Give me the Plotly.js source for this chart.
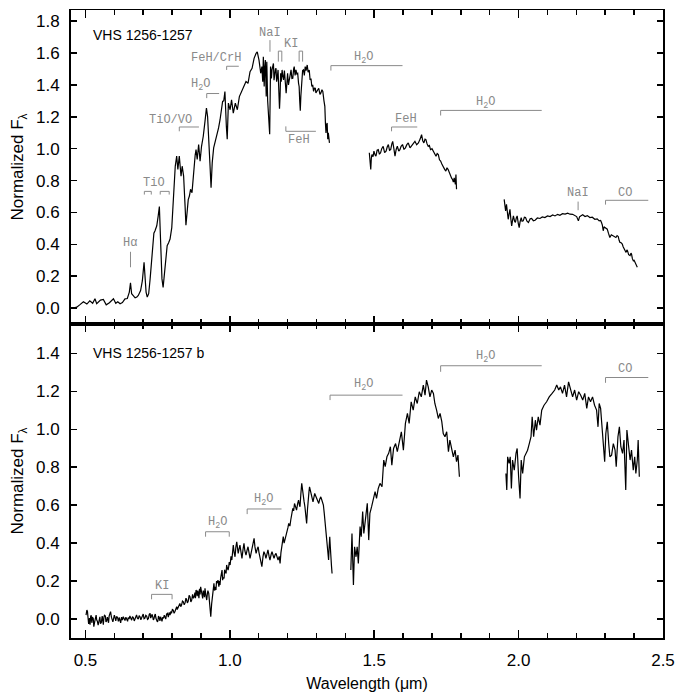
<!DOCTYPE html>
<html>
<head>
<meta charset="utf-8">
<script src="https://cdn.plot.ly/plotly-3.0.1.min.js"></script>
<style>
  html, body { margin: 0; padding: 0; background: #fff; }
  #chart { width: 693px; height: 692px; }
</style>
</head>
<body>
<div id="chart"></div>
<script>
// primary (top panel) spectrum, three segments [wavelength µm, normalized flux]
const hostSeg1 = [[0.458,0.000],[0.470,0.006],[0.480,0.020],[0.493,0.040],[0.505,0.025],[0.515,0.045],[0.525,0.030],[0.533,0.058],[0.539,0.027],[0.545,0.040],[0.552,0.050],[0.562,0.054],[0.572,0.020],[0.583,0.033],[0.590,0.045],[0.597,0.058],[0.605,0.030],[0.612,0.040],[0.620,0.027],[0.628,0.035],[0.637,0.058],[0.645,0.060],[0.652,0.100],[0.656,0.158],[0.660,0.090],[0.666,0.079],[0.672,0.064],[0.678,0.070],[0.683,0.079],[0.691,0.110],[0.697,0.170],[0.703,0.287],[0.707,0.160],[0.710,0.100],[0.714,0.069],[0.719,0.090],[0.724,0.183],[0.729,0.300],[0.733,0.401],[0.737,0.470],[0.741,0.485],[0.747,0.516],[0.752,0.578],[0.756,0.637],[0.760,0.433],[0.765,0.183],[0.769,0.130],[0.775,0.250],[0.779,0.330],[0.783,0.391],[0.788,0.410],[0.793,0.433],[0.799,0.505],[0.804,0.682],[0.808,0.850],[0.811,0.890],[0.816,0.953],[0.820,0.870],[0.825,0.953],[0.828,0.900],[0.831,0.828],[0.835,0.890],[0.840,0.828],[0.845,0.641],[0.848,0.520],[0.853,0.620],[0.856,0.680],[0.860,0.703],[0.864,0.745],[0.869,0.724],[0.872,0.800],[0.876,0.890],[0.880,0.960],[0.883,0.994],[0.887,0.932],[0.892,1.026],[0.897,0.922],[0.902,1.015],[0.908,1.078],[0.914,1.171],[0.919,1.254],[0.923,1.202],[0.928,1.057],[0.931,0.911],[0.935,0.755],[0.939,0.911],[0.944,1.005],[0.950,1.047],[0.956,1.098],[0.961,1.130],[0.966,1.180],[0.971,1.244],[0.975,1.296],[0.979,1.300],[0.983,1.359],[0.988,1.140],[0.991,1.060],[0.995,1.286],[1.001,1.244],[1.006,1.307],[1.012,1.223],[1.019,1.286],[1.026,1.244],[1.033,1.327],[1.041,1.359],[1.049,1.390],[1.056,1.421],[1.063,1.410],[1.070,1.483],[1.077,1.504],[1.084,1.567],[1.091,1.598],[1.095,1.608],[1.101,1.556],[1.104,1.500],[1.107,1.473],[1.111,1.515],[1.114,1.420],[1.116,1.577],[1.119,1.390],[1.121,1.510],[1.123,1.556],[1.126,1.327],[1.128,1.546],[1.131,1.300],[1.134,1.180],[1.138,1.090],[1.141,1.515],[1.144,1.440],[1.146,1.494],[1.148,1.520],[1.151,1.535],[1.153,1.430],[1.155,1.473],[1.158,1.500],[1.160,1.504],[1.162,1.420],[1.164,1.442],[1.167,1.494],[1.169,1.380],[1.172,1.250],[1.174,1.330],[1.176,1.473],[1.178,1.420],[1.181,1.494],[1.183,1.460],[1.186,1.431],[1.189,1.490],[1.192,1.400],[1.195,1.348],[1.198,1.420],[1.200,1.473],[1.203,1.400],[1.206,1.442],[1.209,1.470],[1.212,1.494],[1.215,1.440],[1.218,1.442],[1.221,1.500],[1.223,1.515],[1.226,1.460],[1.229,1.494],[1.232,1.470],[1.235,1.473],[1.238,1.410],[1.240,1.390],[1.242,1.300],[1.244,1.238],[1.246,1.330],[1.249,1.452],[1.252,1.490],[1.255,1.494],[1.258,1.460],[1.261,1.515],[1.264,1.490],[1.268,1.525],[1.271,1.480],[1.275,1.494],[1.278,1.431],[1.281,1.440],[1.284,1.390],[1.287,1.400],[1.290,1.359],[1.293,1.380],[1.296,1.379],[1.298,1.350],[1.301,1.359],[1.305,1.370],[1.308,1.379],[1.312,1.340],[1.315,1.348],[1.319,1.370],[1.322,1.359],[1.326,1.300],[1.329,1.265],[1.331,1.161],[1.333,1.099],[1.335,1.150],[1.337,1.161],[1.339,1.060],[1.341,1.100],[1.345,1.036]];
const hostSeg2 = [[1.483,0.974],[1.486,0.900],[1.488,0.869],[1.490,0.940],[1.492,0.963],[1.496,0.950],[1.499,0.984],[1.503,0.960],[1.506,0.953],[1.510,0.990],[1.514,0.994],[1.518,0.965],[1.522,0.974],[1.526,1.000],[1.531,1.015],[1.536,0.975],[1.541,0.984],[1.545,1.010],[1.549,1.026],[1.553,0.990],[1.557,0.994],[1.561,1.030],[1.564,1.046],[1.568,1.000],[1.572,0.953],[1.576,0.995],[1.580,1.015],[1.585,0.985],[1.589,0.994],[1.593,1.015],[1.598,1.026],[1.603,0.995],[1.608,1.005],[1.613,1.025],[1.618,1.036],[1.624,1.005],[1.630,1.019],[1.635,1.030],[1.641,1.046],[1.647,1.025],[1.653,1.036],[1.659,1.060],[1.664,1.088],[1.668,1.050],[1.672,1.036],[1.676,1.060],[1.679,1.057],[1.683,1.030],[1.687,1.015],[1.691,1.020],[1.695,0.994],[1.700,1.000],[1.705,0.984],[1.710,0.960],[1.714,0.953],[1.718,0.970],[1.722,0.963],[1.726,0.930],[1.730,0.922],[1.735,0.900],[1.739,0.890],[1.744,0.870],[1.748,0.859],[1.752,0.880],[1.756,0.869],[1.761,0.840],[1.765,0.828],[1.768,0.815],[1.771,0.807],[1.774,0.790],[1.777,0.817],[1.779,0.800],[1.781,0.776],[1.783,0.838],[1.785,0.745]];
const hostSeg3 = [[1.950,0.682],[1.953,0.640],[1.955,0.609],[1.958,0.651],[1.961,0.600],[1.964,0.557],[1.967,0.590],[1.970,0.620],[1.973,0.560],[1.976,0.516],[1.979,0.550],[1.982,0.578],[1.986,0.545],[1.989,0.537],[1.992,0.565],[1.995,0.578],[1.999,0.530],[2.002,0.505],[2.005,0.540],[2.009,0.568],[2.012,0.545],[2.016,0.547],[2.020,0.570],[2.024,0.568],[2.029,0.545],[2.034,0.537],[2.040,0.560],[2.045,0.562],[2.051,0.548],[2.057,0.551],[2.065,0.565],[2.074,0.562],[2.082,0.572],[2.091,0.568],[2.100,0.578],[2.109,0.574],[2.118,0.584],[2.126,0.578],[2.135,0.588],[2.143,0.582],[2.152,0.592],[2.161,0.589],[2.170,0.595],[2.178,0.589],[2.187,0.588],[2.195,0.578],[2.201,0.574],[2.207,0.547],[2.211,0.572],[2.215,0.578],[2.222,0.585],[2.230,0.574],[2.238,0.580],[2.247,0.568],[2.255,0.570],[2.264,0.557],[2.272,0.560],[2.279,0.547],[2.284,0.550],[2.287,0.537],[2.290,0.520],[2.293,0.485],[2.296,0.510],[2.299,0.505],[2.303,0.500],[2.307,0.495],[2.311,0.470],[2.316,0.443],[2.321,0.460],[2.326,0.453],[2.331,0.448],[2.337,0.443],[2.341,0.455],[2.345,0.449],[2.348,0.425],[2.351,0.412],[2.355,0.410],[2.359,0.401],[2.362,0.385],[2.366,0.370],[2.369,0.365],[2.372,0.349],[2.375,0.365],[2.377,0.360],[2.381,0.335],[2.386,0.329],[2.389,0.345],[2.391,0.339],[2.394,0.310],[2.397,0.297],[2.400,0.300],[2.404,0.287],[2.407,0.270],[2.411,0.256]];

// companion "b" (bottom panel) spectrum
const compSeg1 = [[0.502,0.021],[0.504,0.045],[0.505,0.047],[0.507,0.040],[0.509,0.000],[0.511,-0.026],[0.514,0.005],[0.516,-0.030],[0.518,0.012],[0.520,0.020],[0.522,-0.020],[0.524,0.010],[0.527,0.003],[0.529,-0.040],[0.532,-0.015],[0.535,0.015],[0.537,0.021],[0.539,-0.005],[0.541,-0.010],[0.544,-0.032],[0.547,0.000],[0.550,0.012],[0.552,-0.025],[0.555,-0.018],[0.558,0.015],[0.560,-0.014],[0.562,-0.030],[0.564,0.010],[0.566,0.020],[0.569,0.016],[0.571,-0.015],[0.573,-0.012],[0.576,0.010],[0.578,-0.005],[0.580,-0.020],[0.582,0.015],[0.585,0.025],[0.587,0.039],[0.590,0.010],[0.592,0.000],[0.595,-0.015],[0.597,-0.002],[0.600,0.020],[0.602,0.012],[0.605,-0.010],[0.608,0.012],[0.611,0.010],[0.614,-0.012],[0.617,0.008],[0.620,-0.009],[0.622,-0.020],[0.625,0.010],[0.628,-0.005],[0.631,0.012],[0.634,0.000],[0.637,-0.008],[0.640,0.010],[0.643,0.000],[0.646,-0.012],[0.648,0.008],[0.651,0.000],[0.654,0.016],[0.657,0.002],[0.660,-0.006],[0.663,0.012],[0.666,0.007],[0.669,-0.010],[0.671,-0.003],[0.674,0.010],[0.677,0.021],[0.680,0.005],[0.683,0.000],[0.686,0.018],[0.689,0.012],[0.692,-0.004],[0.694,0.004],[0.697,0.020],[0.700,0.026],[0.703,0.002],[0.706,0.005],[0.709,0.020],[0.712,0.016],[0.715,-0.002],[0.718,0.002],[0.721,0.025],[0.724,0.030],[0.726,0.005],[0.728,0.010],[0.731,0.025],[0.733,0.012],[0.735,-0.005],[0.737,0.000],[0.740,0.020],[0.742,0.026],[0.744,0.005],[0.746,0.000],[0.749,-0.015],[0.751,-0.009],[0.753,0.015],[0.755,0.010],[0.758,-0.010],[0.760,0.012],[0.763,0.000],[0.765,-0.012],[0.768,0.010],[0.770,0.003],[0.773,0.020],[0.775,0.012],[0.778,0.000],[0.781,0.026],[0.784,0.030],[0.787,0.010],[0.790,0.035],[0.793,0.021],[0.796,0.040],[0.798,0.030],[0.801,0.050],[0.804,0.047],[0.807,0.030],[0.810,0.040],[0.813,0.060],[0.816,0.065],[0.818,0.050],[0.821,0.060],[0.824,0.075],[0.827,0.082],[0.830,0.065],[0.833,0.075],[0.836,0.095],[0.839,0.091],[0.842,0.075],[0.845,0.085],[0.848,0.110],[0.850,0.104],[0.853,0.085],[0.856,0.095],[0.859,0.125],[0.862,0.118],[0.865,0.090],[0.868,0.100],[0.871,0.130],[0.874,0.109],[0.877,0.120],[0.879,0.140],[0.881,0.110],[0.883,0.153],[0.885,0.145],[0.887,0.120],[0.889,0.150],[0.891,0.135],[0.893,0.110],[0.895,0.160],[0.897,0.130],[0.899,0.170],[0.901,0.155],[0.903,0.140],[0.906,0.109],[0.908,0.150],[0.910,0.140],[0.912,0.115],[0.914,0.162],[0.917,0.125],[0.920,0.100],[0.922,0.130],[0.924,0.150],[0.927,0.135],[0.929,0.090],[0.931,0.070],[0.934,0.012],[0.937,0.080],[0.939,0.118],[0.942,0.160],[0.945,0.188],[0.947,0.150],[0.949,0.170],[0.952,0.153],[0.954,0.200],[0.956,0.190],[0.959,0.205],[0.962,0.170],[0.964,0.200],[0.966,0.179],[0.968,0.215],[0.970,0.230],[0.973,0.258],[0.975,0.205],[0.977,0.220],[0.980,0.214],[0.982,0.260],[0.984,0.250],[0.987,0.240],[0.989,0.285],[0.991,0.270],[0.994,0.258],[0.996,0.275],[0.998,0.300],[1.001,0.285],[1.004,0.330],[1.007,0.311],[1.010,0.360],[1.012,0.390],[1.015,0.350],[1.018,0.328],[1.021,0.380],[1.024,0.407],[1.027,0.370],[1.029,0.346],[1.032,0.370],[1.035,0.390],[1.039,0.350],[1.042,0.320],[1.046,0.370],[1.049,0.399],[1.052,0.360],[1.056,0.337],[1.060,0.365],[1.063,0.381],[1.067,0.345],[1.070,0.320],[1.074,0.350],[1.077,0.372],[1.081,0.400],[1.084,0.425],[1.087,0.380],[1.091,0.346],[1.095,0.370],[1.098,0.381],[1.101,0.350],[1.104,0.320],[1.108,0.300],[1.111,0.276],[1.115,0.330],[1.118,0.355],[1.122,0.340],[1.125,0.320],[1.129,0.345],[1.132,0.364],[1.136,0.330],[1.139,0.311],[1.143,0.340],[1.146,0.355],[1.150,0.335],[1.153,0.320],[1.157,0.340],[1.160,0.346],[1.164,0.325],[1.167,0.311],[1.171,0.330],[1.174,0.293],[1.177,0.350],[1.180,0.390],[1.183,0.420],[1.185,0.434],[1.188,0.400],[1.191,0.416],[1.194,0.445],[1.197,0.460],[1.201,0.480],[1.204,0.504],[1.208,0.490],[1.211,0.522],[1.215,0.560],[1.218,0.583],[1.221,0.570],[1.224,0.609],[1.228,0.590],[1.231,0.574],[1.235,0.610],[1.238,0.627],[1.241,0.600],[1.243,0.592],[1.246,0.660],[1.249,0.715],[1.252,0.680],[1.254,0.636],[1.257,0.620],[1.260,0.592],[1.263,0.550],[1.266,0.504],[1.269,0.580],[1.271,0.644],[1.274,0.670],[1.276,0.697],[1.279,0.680],[1.282,0.653],[1.285,0.640],[1.288,0.618],[1.291,0.640],[1.294,0.662],[1.297,0.650],[1.301,0.636],[1.304,0.620],[1.308,0.609],[1.311,0.630],[1.315,0.644],[1.318,0.630],[1.321,0.618],[1.324,0.600],[1.327,0.557],[1.330,0.500],[1.333,0.443],[1.336,0.400],[1.338,0.346],[1.340,0.330],[1.342,0.311],[1.344,0.380],[1.346,0.434],[1.348,0.380],[1.349,0.328],[1.352,0.280],[1.354,0.240]];
const compSeg2 = [[1.419,0.258],[1.423,0.451],[1.428,0.179],[1.432,0.381],[1.437,0.328],[1.441,0.381],[1.445,0.293],[1.451,0.487],[1.455,0.434],[1.460,0.566],[1.464,0.451],[1.470,0.522],[1.476,0.610],[1.481,0.416],[1.485,0.557],[1.491,0.592],[1.497,0.627],[1.503,0.671],[1.508,0.636],[1.514,0.688],[1.520,0.715],[1.527,0.697],[1.533,0.838],[1.538,0.803],[1.544,0.855],[1.550,0.873],[1.556,0.908],[1.561,0.811],[1.567,0.899],[1.574,0.925],[1.580,0.882],[1.587,0.943],[1.594,0.987],[1.601,0.890],[1.608,1.031],[1.615,1.084],[1.621,1.031],[1.628,1.145],[1.635,1.101],[1.642,1.171],[1.649,1.136],[1.656,1.198],[1.663,1.171],[1.670,1.233],[1.676,1.180],[1.681,1.259],[1.687,1.224],[1.693,1.171],[1.699,1.207],[1.705,1.189],[1.710,1.136],[1.716,1.101],[1.722,1.057],[1.728,1.084],[1.734,1.040],[1.739,0.978],[1.745,0.961],[1.751,0.987],[1.757,0.882],[1.762,0.943],[1.768,0.890],[1.774,0.855],[1.780,0.890],[1.785,0.829],[1.790,0.864],[1.795,0.750]];
const compSeg3 = [[1.956,0.767],[1.959,0.680],[1.962,0.855],[1.967,0.820],[1.971,0.855],[1.975,0.688],[1.979,0.838],[1.985,0.785],[1.991,0.873],[1.995,0.899],[2.000,0.750],[2.005,0.636],[2.009,0.838],[2.014,0.767],[2.020,0.855],[2.025,0.873],[2.031,0.890],[2.037,0.925],[2.043,0.961],[2.047,1.066],[2.052,0.961],[2.058,1.048],[2.062,0.996],[2.068,1.066],[2.074,1.022],[2.080,1.101],[2.088,1.127],[2.097,1.145],[2.106,1.171],[2.116,1.189],[2.125,1.207],[2.132,1.233],[2.139,1.207],[2.145,1.224],[2.152,1.189],[2.159,1.233],[2.166,1.171],[2.173,1.250],[2.180,1.215],[2.187,1.171],[2.194,1.207],[2.201,1.154],[2.208,1.198],[2.215,1.180],[2.222,1.154],[2.229,1.189],[2.236,1.110],[2.242,1.171],[2.249,1.145],[2.256,1.171],[2.263,1.127],[2.270,1.101],[2.275,1.013],[2.279,1.136],[2.284,1.110],[2.289,1.013],[2.293,0.952],[2.298,0.829],[2.302,0.978],[2.307,1.040],[2.312,0.925],[2.316,0.855],[2.322,0.864],[2.328,0.925],[2.334,0.890],[2.338,0.803],[2.344,0.961],[2.349,1.013],[2.354,0.908],[2.360,0.873],[2.365,0.943],[2.371,0.680],[2.375,0.996],[2.381,0.890],[2.386,0.838],[2.391,0.890],[2.397,0.785],[2.402,0.855],[2.406,0.767],[2.411,0.838],[2.414,0.943],[2.418,0.750]];

// feature bands: [label, x0, x1, barY, legY, legs('L' left only, 'B' both), labelX, labelY]
const hostBands = [
  ['TiO', 0.704, 0.728, 0.732, 0.712, 'B', 0.737, 0.782],
  ['', 0.759, 0.790, 0.732, 0.712, 'B', null, null],
  ['TiO/VO', 0.825, 0.893, 1.136, 1.109, 'L', 0.795, 1.180],
  ['H<sub>2</sub>O', 0.920, 0.963, 1.346, 1.317, 'L', 0.897, 1.400],
  ['FeH/CrH', 0.989, 1.031, 1.517, 1.494, 'L', 0.951, 1.567],
  ['KI', 1.168, 1.180, 1.612, 1.546, 'B', 1.211, 1.656],
  ['', 1.240, 1.252, 1.612, 1.546, 'B', null, null],
  ['FeH', 1.194, 1.298, 1.109, 1.140, 'L', 1.239, 1.052],
  ['H<sub>2</sub>O', 1.350, 1.598, 1.521, 1.490, 'L', 1.464, 1.571],
  ['FeH', 1.560, 1.649, 1.136, 1.109, 'L', 1.609, 1.186],
  ['H<sub>2</sub>O', 1.730, 2.080, 1.240, 1.208, 'L', 1.886, 1.286],
  ['CO', 2.301, 2.449, 0.676, 0.649, 'L', 2.368, 0.720]
];
// single lines: [label, x, y0, y1, labelY]
const hostLines = [
  ['Hα', 0.656, 0.256, 0.353, 0.410],
  ['NaI', 1.139, 1.608, 1.681, 1.723],
  ['NaI', 2.206, 0.614, 0.668, 0.720]
];
const compBands = [
  ['KI', 0.729, 0.800, 0.130, 0.104, 'B', 0.764, 0.172],
  ['H<sub>2</sub>O', 0.916, 0.998, 0.460, 0.434, 'B', 0.958, 0.507],
  ['H<sub>2</sub>O', 1.060, 1.179, 0.580, 0.553, 'L', 1.116, 0.627],
  ['H<sub>2</sub>O', 1.347, 1.598, 1.180, 1.154, 'L', 1.464, 1.233],
  ['H<sub>2</sub>O', 1.730, 2.080, 1.335, 1.303, 'L', 1.886, 1.382],
  ['CO', 2.301, 2.449, 1.273, 1.245, 'L', 2.368, 1.317]
];
const panelNames = ['VHS 1256-1257', 'VHS 1256-1257 b'];

function joinSegs(segs) {
    const x = [], y = [];
    segs.forEach(function (s, i) {
        if (i > 0) { x.push(null); y.push(null); }
        s.forEach(function (p) { x.push(p[0]); y.push(p[1]); });
    });
    return { x: x, y: y };
}

const host = joinSegs([hostSeg1, hostSeg2, hostSeg3]);
const comp = joinSegs([compSeg1, compSeg2, compSeg3]);

const lineStyle = { color: 'black', width: 1.2 };
const traces = [
    { x: host.x, y: host.y, xaxis: 'x2', yaxis: 'y2', type: 'scatter', mode: 'lines', line: lineStyle, connectgaps: false, hoverinfo: 'skip' },
    { x: comp.x, y: comp.y, xaxis: 'x', yaxis: 'y', type: 'scatter', mode: 'lines', line: lineStyle, connectgaps: false, hoverinfo: 'skip' }
];

const grey = '#8a8a8a';
const monoFont = { family: 'Liberation Mono, Courier New, monospace', size: 12, color: grey };
const shapes = [], annotations = [];

function addBands(bands, xref, yref) {
    bands.forEach(function (b) {
        let path = 'M' + b[1] + ',' + b[4] + ' L' + b[1] + ',' + b[3] + ' L' + b[2] + ',' + b[3];
        if (b[5] === 'B') path += ' L' + b[2] + ',' + b[4];
        shapes.push({ type: 'path', xref: xref, yref: yref, path: path, line: { color: grey, width: 1 } });
        if (b[0]) {
            annotations.push({ xref: xref, yref: yref, x: b[6], y: b[7], text: b[0], showarrow: false,
                xanchor: 'center', yanchor: 'middle', font: monoFont });
        }
    });
}
addBands(hostBands, 'x2', 'y2');
addBands(compBands, 'x', 'y');
hostLines.forEach(function (l) {
    shapes.push({ type: 'line', xref: 'x2', yref: 'y2', x0: l[1], x1: l[1], y0: l[2], y1: l[3], line: { color: grey, width: 1 } });
    annotations.push({ xref: 'x2', yref: 'y2', x: l[1], y: l[4], text: l[0], showarrow: false,
        xanchor: 'center', yanchor: 'middle', font: monoFont });
});

annotations.push({ xref: 'x2', yref: 'y2', x: 0.52, y: 1.712, text: panelNames[0], showarrow: false,
    xanchor: 'left', yanchor: 'middle', font: { family: 'Liberation Sans, Arial, sans-serif', size: 14, color: 'black' } });
annotations.push({ xref: 'x', yref: 'y', x: 0.52, y: 1.400, text: panelNames[1], showarrow: false,
    xanchor: 'left', yanchor: 'middle', font: { family: 'Liberation Sans, Arial, sans-serif', size: 14, color: 'black' } });

function xAxis(anchor, labels) {
    return {
        anchor: anchor, domain: [0, 1], range: [0.45, 2.5], dtick: 0.5, tickformat: '.1f',
        ticks: 'inside', ticklen: 8, tickwidth: 1.5, tickcolor: 'black',
        minor: { dtick: 0.1, ticks: 'inside', ticklen: 5, tickwidth: 1.5, tickcolor: 'black' },
        showline: true, linewidth: 2, linecolor: 'black', mirror: 'ticks',
        showgrid: false, zeroline: false, showticklabels: labels,
        tickfont: { size: 17 }, ticklabelstandoff: 6
    };
}
function yAxis(domain, range) {
    return {
        domain: domain, range: range, dtick: 0.2, tick0: 0, tickformat: '.1f',
        ticks: 'inside', ticklen: 6, tickwidth: 1.5, tickcolor: 'black',
        showline: true, linewidth: 2, linecolor: 'black', mirror: 'ticks',
        showgrid: false, zeroline: false, tickfont: { size: 17 }, ticklabelstandoff: 6,
        title: { text: 'Normalized F<sub>λ</sub>', font: { size: 17 }, standoff: 8 }
    };
}

const xa = xAxis('y', true);
xa.title = { text: 'Wavelength (μm)', font: { size: 16 }, standoff: 8 };
const xa2 = xAxis('y2', false);
xa2.matches = 'x';
xa2.linewidth = 1.5;

const layout = {
    width: 693, height: 692,
    margin: { l: 71, r: 30, t: 10, b: 54 },
    paper_bgcolor: 'white', plot_bgcolor: 'white',
    showlegend: false,
    font: { family: 'Liberation Sans, Arial, sans-serif', color: 'black' },
    xaxis: xa,
    xaxis2: xa2,
    yaxis: yAxis([0, 0.5], [-0.1, 1.555]),
    yaxis2: yAxis([0.5, 1], [-0.1, 1.87]),
    shapes: shapes,
    annotations: annotations
};

Plotly.newPlot('chart', traces, layout, { displayModeBar: false, staticPlot: true });
</script>
</body>
</html>
